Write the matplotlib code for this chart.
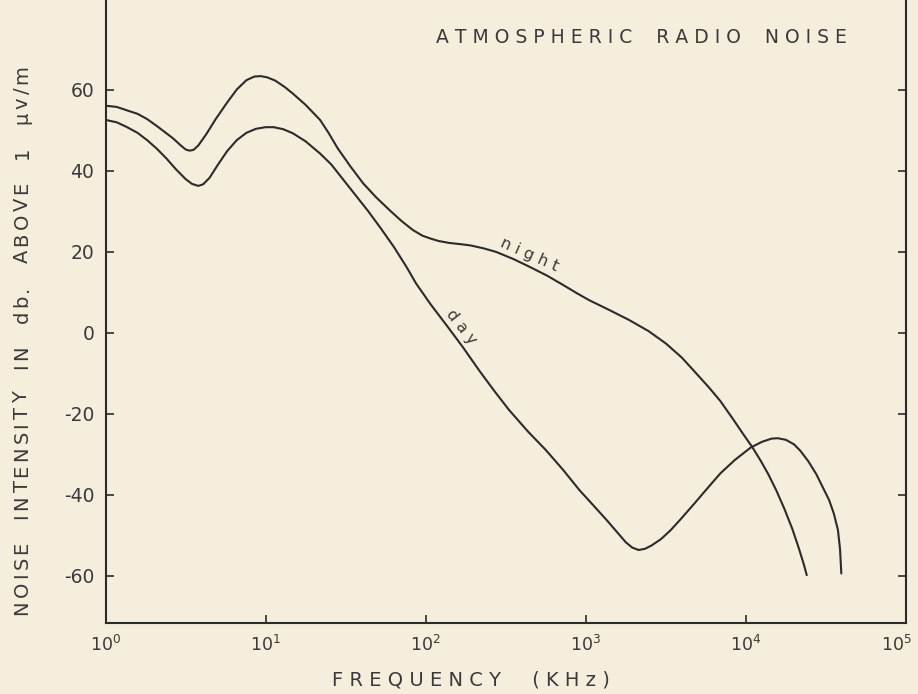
import numpy as np
import matplotlib
matplotlib.use('Agg')
import matplotlib.pyplot as plt
from matplotlib.ticker import FixedLocator, FixedFormatter, NullLocator
from matplotlib.font_manager import FontProperties

# ---- data (frequency as log10 kHz, intensity in dB) ----
night_log_khz = [0.00, 0.07, 0.13, 0.20, 0.26, 0.32, 0.38, 0.42, 0.47, 0.50,
                 0.525, 0.55, 0.58, 0.63, 0.69, 0.76, 0.82, 0.88, 0.93, 0.97,
                 1.01, 1.06, 1.12, 1.17, 1.25, 1.34, 1.39, 1.45, 1.53, 1.61,
                 1.69, 1.78, 1.85, 1.92, 1.98, 2.03, 2.08, 2.15, 2.22, 2.28,
                 2.36, 2.44, 2.55, 2.65, 2.76, 2.86, 2.94, 3.02, 3.15, 3.27,
                 3.39, 3.50, 3.60, 3.69, 3.77, 3.84, 3.92, 3.98, 4.04, 4.09,
                 4.14, 4.19, 4.24, 4.29, 4.33, 4.36, 4.38]
night_db = [56.0, 55.7, 54.9, 54.0, 52.7, 51.0, 49.2, 48.0, 46.2, 45.2,
            44.9, 45.1, 46.2, 49.0, 52.8, 56.8, 60.0, 62.3, 63.2, 63.3,
            63.0, 62.2, 60.6, 59.0, 56.2, 52.5, 49.5, 45.5, 41.0, 36.8,
            33.4, 30.0, 27.5, 25.3, 23.9, 23.2, 22.6, 22.1, 21.8, 21.5,
            20.8, 19.9, 18.1, 16.2, 14.0, 11.7, 9.8, 8.0, 5.5, 3.1,
            0.4, -2.7, -6.2, -10.1, -13.6, -16.9, -21.4, -24.9, -28.3, -31.5,
            -35.0, -39.0, -43.5, -48.5, -53.2, -57.0, -59.9]

day_log_khz = [0.00, 0.07, 0.13, 0.20, 0.26, 0.32, 0.38, 0.44, 0.50, 0.54,
               0.58, 0.61, 0.65, 0.70, 0.76, 0.82, 0.88, 0.94, 1.00, 1.05,
               1.11, 1.17, 1.25, 1.34, 1.41, 1.48, 1.56, 1.64, 1.72, 1.80,
               1.88, 1.94, 2.03, 2.13, 2.23, 2.34, 2.43, 2.52, 2.64, 2.75,
               2.86, 2.96, 3.05, 3.13, 3.20, 3.25, 3.29, 3.33, 3.37, 3.41,
               3.47, 3.53, 3.59, 3.67, 3.75, 3.84, 3.93, 4.03, 4.10, 4.16,
               4.20, 4.25, 4.30, 4.34, 4.39, 4.44, 4.48, 4.52, 4.55, 4.575,
               4.588, 4.596]
day_db = [52.5, 51.9, 50.8, 49.3, 47.5, 45.4, 43.0, 40.3, 37.9, 36.7,
          36.2, 36.6, 38.2, 41.3, 44.8, 47.5, 49.3, 50.3, 50.7, 50.7,
          50.2, 49.2, 47.2, 44.2, 41.5, 38.0, 34.0, 30.0, 25.7, 21.2,
          16.2, 12.1, 7.0, 1.8, -3.5, -9.7, -14.5, -19.1, -24.5, -29.0,
          -34.0, -38.9, -42.8, -46.3, -49.5, -51.8, -53.1, -53.7, -53.4, -52.6,
          -51.0, -48.8, -46.2, -42.6, -38.9, -34.8, -31.5, -28.4, -27.0, -26.2,
          -26.1, -26.5, -27.6, -29.2, -31.8, -35.0, -38.2, -41.4, -44.8, -48.8,
          -53.5, -59.5]

xticks = [1, 10, 100, 1000, 10000, 100000]
xtick_labels = ['$10^0$', '$10^1$', '$10^2$', '$10^3$', '$10^4$', '$10^5$']
yticks = [-60, -40, -20, 0, 20, 40, 60]
ytick_labels = ['-60', '-40', '-20', '0', '20', '40', '60']

title = 'A T M O S P H E R I C    R A D I O    N O I S E'
xlabel = 'F R E Q U E N C Y     ( K H z )'
ylabel = 'NOISE  INTENSITY  IN  db.  ABOVE  1  μv/m'

# ---- styling ----
paper = '#f5eedc'
ink = '#2b2b2b'
text_ink = '#3a3a3a'

plt.rcParams['font.family'] = ['DejaVu Sans']
plt.rcParams['mathtext.fontset'] = 'dejavusans'

W, H = 918, 694
fig = plt.figure(figsize=(W / 100, H / 100), dpi=100, facecolor=paper)
left_px, right_px, bottom_px = 105.5, 906, 622.5
ax = fig.add_axes([left_px / W, 1 - bottom_px / H, (right_px - left_px) / W, bottom_px / H])
ax.set_facecolor(paper)

ax.plot(np.power(10.0, night_log_khz), night_db, color=ink, lw=1.5,
        solid_joinstyle='round', solid_capstyle='round')
ax.plot(np.power(10.0, day_log_khz), day_db, color=ink, lw=1.5,
        solid_joinstyle='round', solid_capstyle='round')

ax.set_xscale('log')
ax.set_xlim(1, 1e5)
ax.set_ylim(-71.6, 82.1)

ax.xaxis.set_major_locator(FixedLocator(xticks))
ax.xaxis.set_major_formatter(FixedFormatter(xtick_labels[:-1] + ['']))
ax.xaxis.set_minor_locator(NullLocator())
ax.yaxis.set_major_locator(FixedLocator(yticks))
ax.yaxis.set_major_formatter(FixedFormatter(ytick_labels))

ax.tick_params(axis='both', which='major', direction='in', length=6, width=1.2,
               color=ink, labelcolor=text_ink)
ax.tick_params(axis='x', pad=9, labelsize=12.5)
ax.tick_params(axis='y', pad=8, right=True, labelsize=13.5)

# last x tick label nudged inward so it stays inside the picture
ax.annotate(xtick_labels[-1], xy=(xticks[-1], 0), xycoords=('data', 'axes fraction'),
            xytext=(-7, -9), textcoords='offset points', ha='center', va='top',
            fontsize=12.5, color=text_ink)

for side in ('left', 'right', 'bottom'):
    ax.spines[side].set_color(ink)
    ax.spines[side].set_linewidth(1.5)
ax.spines['top'].set_visible(False)

ax.text(0.670, 0.939, title, transform=ax.transAxes, ha='center', va='center',
        fontsize=13.5, color=text_ink)

ax.text(10 ** 2.65, 19.1, 'n i g h t', rotation=-24, ha='center', va='center',
        fontsize=11.5, color=text_ink, rotation_mode='anchor')
ax.text(10 ** 2.22, 1.4, 'd a y', rotation=-52, ha='center', va='center',
        fontsize=11.5, color=text_ink, rotation_mode='anchor')

fig.text(471 / W, 1 - 680 / H, xlabel, ha='center', va='center', fontsize=14, color=text_ink)


def tracked_vertical(s, cx_px, cy_px, length_px, fontsize):
    """Draw text rotated 90 deg with letter tracking so it spans length_px."""
    renderer = fig.canvas.get_renderer()
    prop = FontProperties(family='DejaVu Sans', size=fontsize)
    widths = []
    for ch in s:
        if ch == ' ':
            w2, _, _ = renderer.get_text_width_height_descent('a a', prop, ismath=False)
            w1, _, _ = renderer.get_text_width_height_descent('aa', prop, ismath=False)
            widths.append(w2 - w1)
        else:
            w, _, _ = renderer.get_text_width_height_descent(ch, prop, ismath=False)
            widths.append(w)
    natural = sum(widths)
    extra = (length_px - natural) / max(len(s) - 1, 1)
    pos = cy_px + length_px / 2.0  # start at bottom (image coords: larger y)
    for ch, w in zip(s, widths):
        if ch != ' ':
            fig.text(cx_px / W, 1 - pos / H, ch, rotation=90, ha='center', va='bottom',
                     fontproperties=prop, color=text_ink)
        pos -= w + extra


tracked_vertical(ylabel, 22, 340, 550, 14)

fig.savefig('out.png', dpi=100, facecolor=paper)
